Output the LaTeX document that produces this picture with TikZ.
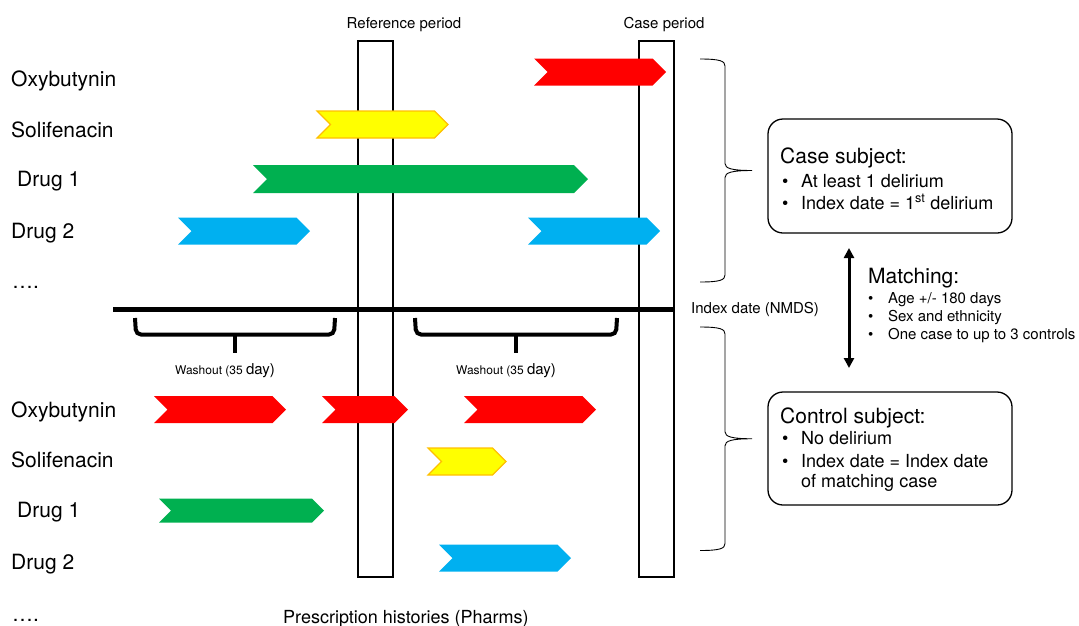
\documentclass[tikz,border=0pt]{standalone}
\usepackage{fontspec}
\setmainfont{TeX Gyre Heros}
\usetikzlibrary{arrows.meta}

\definecolor{drugred}{RGB}{255,0,0}
\definecolor{drugyellow}{RGB}{255,255,0}
\definecolor{drugorange}{RGB}{255,192,0}
\definecolor{druggreen}{RGB}{0,176,80}
\definecolor{drugblue}{RGB}{0,176,240}

% prescription bar: [height]{style}{left}{tip}{y}
\newcommand{\drugbar}[5][27]{%
  \pgfmathsetmacro{\barhalf}{#1/2}%
  \path[#2] (#3,#5-\barhalf) -- (#4-\barhalf,#5-\barhalf) -- (#4,#5)
    -- (#4-\barhalf,#5+\barhalf) -- (#3,#5+\barhalf) -- (#3+\barhalf,#5) -- cycle;}

\tikzset{
  drug/.style={font=\fontsize{21}{25}\selectfont, anchor=base west, inner sep=0pt},
  head/.style={font=\fontsize{21}{25}\selectfont, anchor=base west, inner sep=0pt},
  item/.style={font=\fontsize{18}{21}\selectfont, anchor=base west, inner sep=0pt},
  note/.style={font=\fontsize{15}{18}\selectfont, anchor=base west, inner sep=0pt},
  period/.style={draw, line width=1.3pt},
  subjbox/.style={draw, line width=1.3pt, rounded corners=15pt, minimum width=244pt, inner sep=0pt},
  washout/.style={line width=4pt, rounded corners=5pt},
  red/.style={fill=drugred},
  yellow/.style={fill=drugyellow, draw=drugorange, line width=1.2pt},
  green/.style={fill=druggreen},
  blue/.style={fill=drugblue}
}

\begin{document}
\begin{tikzpicture}[x=1pt, y=-1pt]
  \useasboundingbox (0,0) rectangle (1079,625);

  % periods
  \draw[period] (358,41) rectangle (393,577);
  \draw[period] (639,41) rectangle (674,577);
  \node[note, anchor=base] (refp) at (404,28) {Reference period};
  \node[note, anchor=base] (casep) at (664,28) {Case period};

  % index date
  \draw[line width=5pt] (113,309.5) -- (674,309.5);
  \node[note] (idx) at (691,313) {Index date (NMDS)};

  % case histories
  \node[drug] (ox1) at (11,86) {Oxybutynin};
  \node[drug] (so1) at (11,137) {Solifenacin};
  \node[drug] (da1) at (17,186) {Drug 1};
  \node[drug] (db1) at (11,238) {Drug 2};
  \node[drug] (dt1) at (12,288) {….};
  \drugbar{red}{534}{666}{72}
  \drugbar{yellow}{317}{448}{124.5}
  \drugbar[28]{green}{253}{588}{179}
  \drugbar{blue}{178}{310}{231}
  \drugbar{blue}{528}{660}{231}

  % washout windows
  \foreach \xa/\xb in {135/335, 415/617}{
    \pgfmathsetmacro{\xm}{(\xa+\xb)/2}
    \draw[washout] (\xa,318) -- (\xa+1,334.5) -- (\xb-1,334.5) -- (\xb,318);
    \draw[line width=4pt] (\xm,334.5) -- (\xm,352.5);
  }
  \node[anchor=base west, inner sep=0pt] (wo1) at (175,374)
    {\fontsize{12}{14}\selectfont Washout (35 \fontsize{15}{18}\selectfont day)};
  \node[anchor=base west, inner sep=0pt] (wo2) at (456,374)
    {\fontsize{12}{14}\selectfont Washout (35 \fontsize{15}{18}\selectfont day)};

  % control histories
  \node[drug] (ox2) at (11,417) {Oxybutynin};
  \node[drug] (so2) at (11,467) {Solifenacin};
  \node[drug] (da2) at (17,517) {Drug 1};
  \node[drug] (db2) at (11,569) {Drug 2};
  \node[drug] (dt2) at (12,621) {….};
  \drugbar{red}{154}{286}{409.5}
  \drugbar{red}{322}{408}{409.5}
  \drugbar{red}{464}{596}{409.5}
  \drugbar{yellow}{428}{506}{461.5}
  \drugbar[24]{green}{159}{324}{510.5}
  \drugbar{blue}{439}{571}{558}
  \node[item] (pharms) at (283,623) {Prescription histories (Pharms)};

  % right braces
  \foreach \ya/\yb in {59/282, 327/550.5}{
    \pgfmathsetmacro{\ym}{(\ya+\yb)/2}
    \draw[line width=0.9pt] (700,\ya) .. controls (720,\ya) and (725,\ya+2) .. (725,\ya+7)
      -- (725,\ym-7) .. controls (725,\ym-2) and (732,\ym) .. (752,\ym)
      .. controls (732,\ym) and (725,\ym+2) .. (725,\ym+7)
      -- (725,\yb-7) .. controls (725,\yb-2) and (720,\yb) .. (700,\yb);
  }

  % case subject
  \node[subjbox, minimum height=114pt] (casebox) at (890,176) {};
  \node[head] (caseh) at (780,163) {Case subject:};
  \node[item] (case1) at (782,187) {\makebox[19pt][l]{•}At least 1 delirium};
  \node[item] (case2) at (782,209) {\makebox[19pt][l]{•}Index date = 1\textsuperscript{st} delirium};

  % control subject
  \node[subjbox, minimum height=113pt] (ctrlbox) at (890,448.5) {};
  \node[head] (ctrlh) at (780,423) {Control subject:};
  \node[item] (ctrl1) at (782,444) {\makebox[19pt][l]{•}No delirium};
  \node[item] (ctrl2) at (782,467) {\makebox[19pt][l]{•}Index date = Index date};
  \node[item] (ctrl3) at (801,487) {of matching case};

  % matching
  \coordinate (mtop) at (849,248);
  \coordinate (mbot) at (849,368);
  \draw[line width=3pt, {Triangle[length=10pt,width=10pt]}-{Triangle[length=10pt,width=10pt]}] (mtop) -- (mbot);
  \node[head] (match) at (868,283) {Matching:};
  \node[note] (m1) at (868,303) {\makebox[20pt][l]{•}Age +/- 180 days};
  \node[note] (m2) at (868,321) {\makebox[20pt][l]{•}Sex and ethnicity};
  \node[note] (m3) at (868,339) {\makebox[20pt][l]{•}One case to up to 3 controls};
\end{tikzpicture}
\end{document}
